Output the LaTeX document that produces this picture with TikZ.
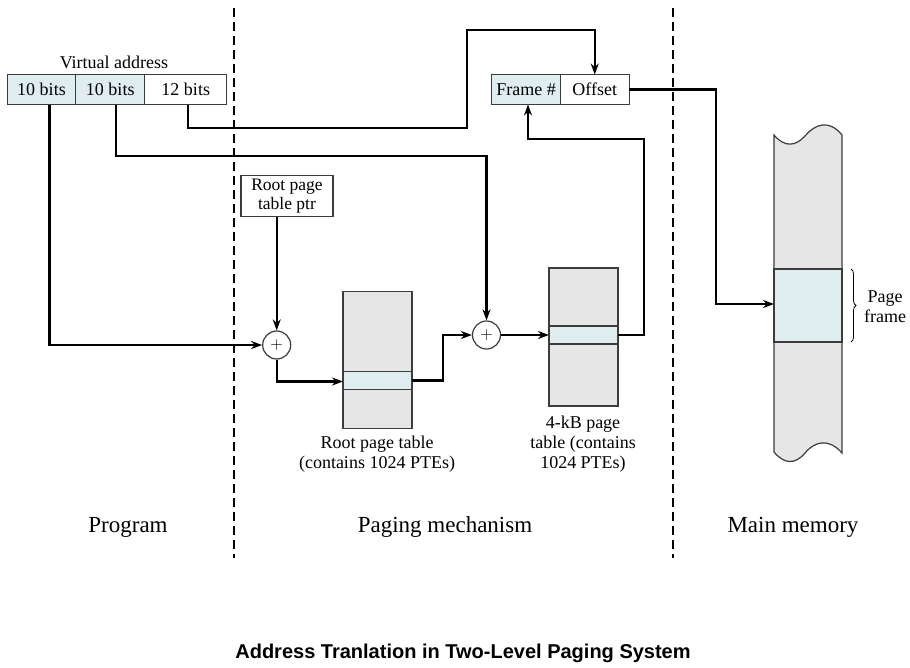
\documentclass[tikz,border=0pt]{standalone}
\usepackage{fontspec}
\setmainfont{Liberation Serif}
\newfontfamily\titlefont{Liberation Sans}
\usepackage{tikz}
\usetikzlibrary{positioning}
\usetikzlibrary{calc}
\usetikzlibrary{shapes.geometric,arrows.meta,decorations.pathreplacing}
\definecolor{entryblue}{HTML}{E0EDF0}
\definecolor{tablegray}{HTML}{E6E6E6}
\definecolor{edgegray}{HTML}{3C3C3C}
\tikzstyle{arrow}=
[line width=2.2pt,->,>={Stealth[length=11pt,width=8pt]}]
\tikzstyle{field}=
[rectangle,
draw=edgegray,
line width=1.2pt,
minimum height=30pt,
inner sep=0pt,
outer sep=0pt]
\tikzstyle{tbl}=
[rectangle,
draw=edgegray,
line width=1.2pt,
fill=tablegray,
minimum width=69pt,
inner sep=0pt,
outer sep=0pt]
\tikzstyle{adder}=
[circle,
draw=edgegray,
line width=1.2pt,
fill=white,
minimum size=28pt,
inner sep=0pt,
font=\fontsize{16}{16}\selectfont]
\tikzstyle{divider}=
[line width=2pt,dash pattern=on 9pt off 5pt]

\begin{document}
\begin{tikzpicture}[x=1pt,y=-1pt,font=\fontsize{18}{20}\selectfont]
\useasboundingbox (0,0) rectangle (910,667);
% dashed separators
\draw[divider] (234,8) -- (234,558);
\draw[divider] (673,8) -- (673,558);
% virtual address
\node (VA) at (114,62) {Virtual address};
\node (B1)
[field,
fill=entryblue,
minimum width=68.5pt]
at (41.5,89.5) {10 bits};
\node (B2)
[field,
fill=entryblue,
minimum width=69pt,
right=0pt of B1]
{10 bits};
\node (B3)
[field,
fill=white,
minimum width=82pt,
right=0pt of B2]
{12 bits};
% physical address
\node (FR)
[field,
fill=entryblue,
minimum width=68.5pt]
at (526,89.5) {Frame \#};
\node (OF)
[field,
fill=white,
minimum width=69pt,
right=0pt of FR]
{Offset};
% root pointer
\node (RP)
[field,
fill=white,
minimum width=92pt,
minimum height=41pt,
align=center,
font=\fontsize{17.5}{19}\selectfont]
at (287,196) {Root page\\table ptr};
% adders
\node (P1) [adder] at (276.7,345) {$+$};
\node (P2) [adder] at (486.5,335) {$+$};
% root page table
\node (RT) [tbl, minimum height=137pt] at (377.5,360) {};
\node (RE) [tbl, fill=entryblue, minimum height=18pt] at (377.5,380.5) {};
\node (RL) [align=center] at (377,454) {Root page table\\(contains 1024 PTEs)};
% 4-kB page table
\node (PT) [tbl, minimum height=138pt] at (583.5,337) {};
\node (PE) [tbl, fill=entryblue, minimum height=18pt] at (583.5,335) {};
\node (PL) [align=center] at (583,444) {4-kB page\\table (contains\\1024 PTEs)};
% main memory
\draw[line width=1.2pt,draw=edgegray,fill=tablegray]
(774,135) .. controls (784,147) and (795,147) .. (805,136)
.. controls (815,124) and (829,119) .. (842,135)
-- (842,453) .. controls (829,438) and (815,441) .. (805,453)
.. controls (795,465) and (784,464) .. (774,452) -- cycle;
\node (PF)
[rectangle,
draw=edgegray,
line width=1.2pt,
fill=entryblue,
minimum width=68pt,
minimum height=73pt,
outer sep=0pt]
at (808,305.5) {};
\draw[line width=0.8pt,decorate,decoration={brace,amplitude=5pt}] ($(PF.north east)+(9,0)$) -- ($(PF.south east)+(9,0)$);
\node (PFL) [align=center] at (885,307) {Page\\frame};
% connectors
\draw[arrow] ($(B1.south)+(8,0)$) |- (P1.west);
\draw[arrow] ($(B2.south)+(6,0)$) -- ++(0,51.5) -| (P2.north);
\coordinate (T1) at (467,30);
\draw[arrow] ($(B3.south)+(2,0)$) -- ++(0,23.5) -| (T1) -| (OF.north);
\draw[arrow] (RP.south -| P1.north) -- (P1.north);
\draw[arrow] (P1.south) |- ($(RE.west)+(0,1)$);
\draw[arrow] (RE.east) -- ++(31,0) |- (P2.west);
\draw[arrow] (P2.east) -- (PE.west);
\draw[arrow] (PE.east) -- ++(26,0) |- ($(FR.south)+(2,34.5)$) -- ($(FR.south)+(2,0)$);
\draw[arrow] (OF.east) -- ++(87,0) |- ($(PF.west)+(0,-1.5)$);
% region labels
\node (PG) [font=\fontsize{23}{26}\selectfont] at (128,527) {Program};
\node (PM) [font=\fontsize{23}{26}\selectfont] at (445,527) {Paging mechanism};
\node (MM) [font=\fontsize{23}{26}\selectfont] at (793,527) {Main memory};
% caption
\node (title) [font=\titlefont\bfseries\fontsize{20}{24}\selectfont] at (463,653) {Address Tranlation in Two-Level Paging System};
\end{tikzpicture}
\end{document}
